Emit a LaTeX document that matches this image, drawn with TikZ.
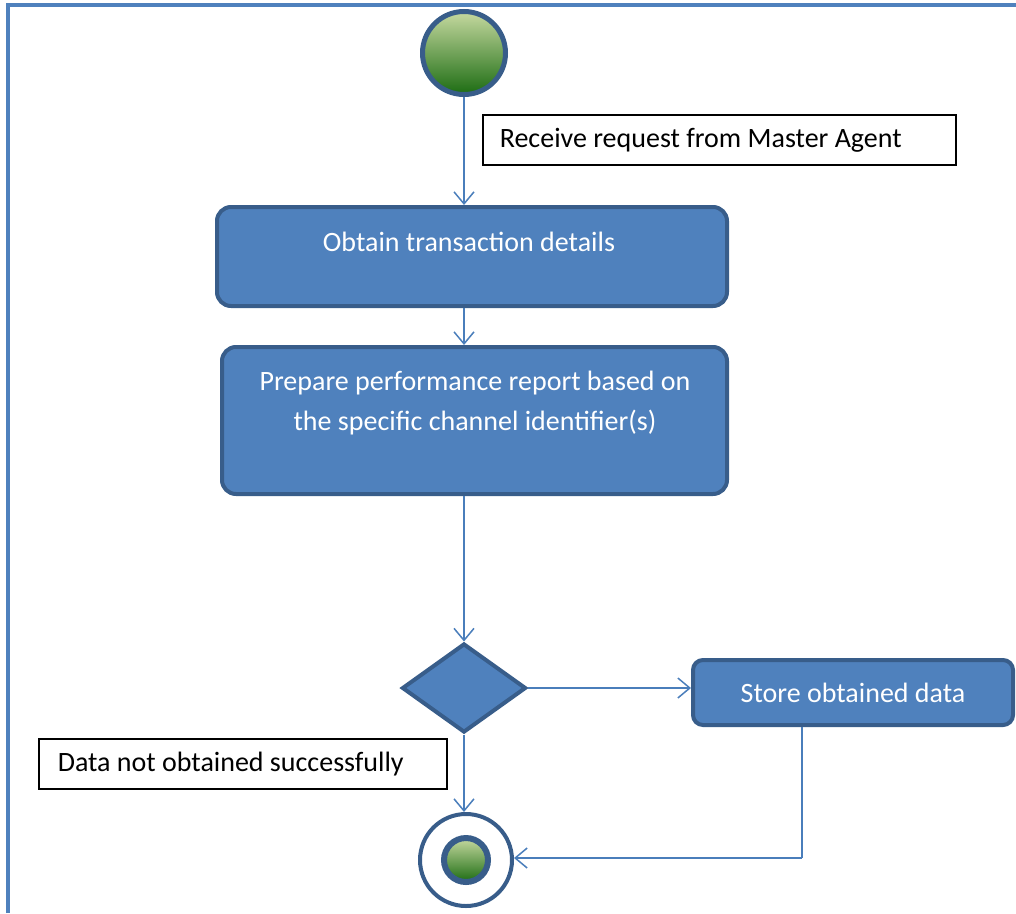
\documentclass[tikz,border=0pt]{standalone}
\usepackage{fontspec}
\setmainfont{Carlito}
\usetikzlibrary{arrows.meta,shapes.geometric}
\definecolor{fillblue}{RGB}{79,129,189}
\definecolor{edgeblue}{RGB}{56,93,138}
\definecolor{lineblue}{RGB}{74,126,187}
\definecolor{greenlight}{RGB}{198,217,160}
\definecolor{greendark}{RGB}{28,108,18}
\tikzset{
  txt/.style={font=\fontsize{28}{40}\selectfont},
  actbox/.style={draw=edgeblue, fill=fillblue, line width=4pt, rounded corners=14pt, inner sep=0pt},
  acttext/.style={txt, text=white, align=center, inner sep=0pt},
  notebox/.style={draw=black, fill=white, line width=1.6pt, txt, inner xsep=17pt, inner ysep=0pt, anchor=west},
  conn/.style={draw=lineblue, line width=1.5pt, -{Straight Barb[length=12pt,width=20pt,line width=1.5pt]}},
  plain/.style={draw=lineblue, line width=1.5pt},
  frameline/.style={draw=fillblue, line width=3.5pt},
}
\begin{document}
\begin{tikzpicture}[x=1pt,y=-1pt]
\useasboundingbox (0,0) rectangle (1016,913);
\draw[frameline] (8,913) -- (8,5) -- (1016,5);

% start node
\node[circle, draw=edgeblue, line width=5pt, minimum size=83pt, inner sep=0pt,
      top color=greenlight, bottom color=greendark] (start) at (464,53) {};

% note
\node[notebox, minimum height=50pt] (recv) at (482,140) {\makebox[439pt][l]{Receive request from Master Agent}};

% obtain
\node[actbox, minimum width=510pt, minimum height=99pt] (obtain) at (472,256.5) {};
\node[acttext] (obtaintxt) at (469,242) {Obtain transaction details};

% prepare
\node[actbox, minimum width=505pt, minimum height=147pt] (prepare) at (474.5,420.5) {};
\node[acttext] (preparetxt) at (475,403) {Prepare performance report based on\\the specific channel identifier(s)};

% decision
\node[diamond, draw=edgeblue, fill=fillblue, line width=4pt, inner sep=0pt,
      minimum width=124pt, minimum height=89pt] (dec) at (464,688) {};

% store
\node[actbox, rounded corners=10pt, minimum width=320pt, minimum height=65pt, txt, text=white] (store) at (853,692.5) {Store obtained data};

% note 2
\node[notebox, inner xsep=19pt, minimum height=50pt] (fail) at (38,764) {\makebox[370pt][l]{Data not obtained successfully}};

% end node
\node[circle, draw=edgeblue, fill=white, line width=4pt, minimum size=92pt, inner sep=0pt] (endc) at (466,860) {};
\node[circle, draw=edgeblue, line width=6pt, minimum size=44pt, inner sep=0pt,
      top color=greenlight, bottom color=greendark] (endin) at (466,860) {};

% connectors
\draw[conn] (start.south) -- (start.south |- obtain.north);
\draw[conn] (start.south |- obtain.south) -- (start.south |- prepare.north);
\draw[conn] (start.south |- prepare.south) -- (start.south |- dec.north);
\draw[conn] (dec.east) -- (dec.east -| store.west);
\draw[conn] (dec.south) -- (dec.south |- endc.north);
\coordinate (corner) at (802,858);
\draw[plain] (corner |- store.south) -- (corner);
\draw[conn] (corner) -- (corner -| endc.east);
\end{tikzpicture}
\end{document}
